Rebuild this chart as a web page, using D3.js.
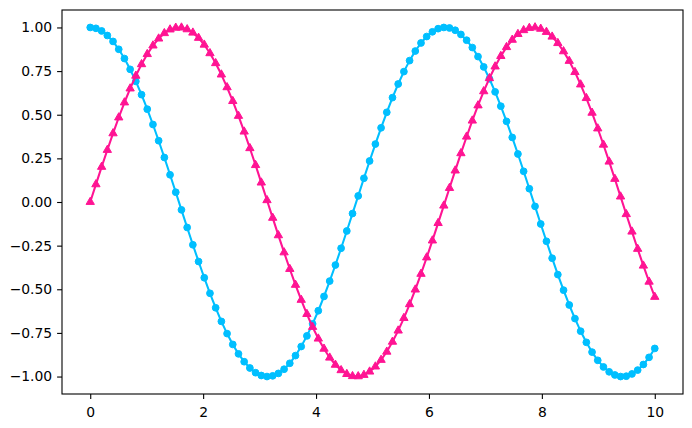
<!DOCTYPE html>
<html>
<head>
<meta charset="utf-8">
<script src="https://cdn.jsdelivr.net/npm/d3@7"></script>
<style>
  html, body { margin: 0; padding: 0; background: #fff; }
  svg { display: block; }
  .tick text { font-family: "DejaVu Sans", sans-serif; font-size: 13.9px; fill: #000; }
</style>
</head>
<body>
<svg id="chart" width="692" height="428"></svg>
<script>
// x positions of the samples
const xValues = [0, 0.101, 0.202, 0.303, 0.404, 0.505, 0.606, 0.707, 0.808, 0.909,
  1.010, 1.111, 1.212, 1.313, 1.414, 1.515, 1.616, 1.717, 1.818, 1.919,
  2.020, 2.121, 2.222, 2.323, 2.424, 2.525, 2.626, 2.727, 2.828, 2.929,
  3.030, 3.131, 3.232, 3.333, 3.434, 3.535, 3.636, 3.737, 3.838, 3.939,
  4.040, 4.141, 4.242, 4.343, 4.444, 4.545, 4.646, 4.747, 4.848, 4.949,
  5.051, 5.152, 5.253, 5.354, 5.455, 5.556, 5.657, 5.758, 5.859, 5.960,
  6.061, 6.162, 6.263, 6.364, 6.465, 6.566, 6.667, 6.768, 6.869, 6.970,
  7.071, 7.172, 7.273, 7.374, 7.475, 7.576, 7.677, 7.778, 7.879, 7.980,
  8.081, 8.182, 8.283, 8.384, 8.485, 8.586, 8.687, 8.788, 8.889, 8.990,
  9.091, 9.192, 9.293, 9.394, 9.495, 9.596, 9.697, 9.798, 9.899, 10];

// pink series (triangles)
const pinkValues = [0, 0.101, 0.201, 0.298, 0.393, 0.484, 0.570, 0.650, 0.723, 0.789,
  0.847, 0.896, 0.936, 0.967, 0.988, 0.998, 0.999, 0.989, 0.970, 0.940,
  0.901, 0.852, 0.795, 0.730, 0.657, 0.578, 0.493, 0.403, 0.308, 0.211,
  0.111, 0.010, -0.091, -0.191, -0.289, -0.384, -0.475, -0.561, -0.642, -0.716,
  -0.783, -0.841, -0.892, -0.933, -0.964, -0.986, -0.998, -0.999, -0.991, -0.972,
  -0.943, -0.905, -0.858, -0.801, -0.737, -0.665, -0.586, -0.502, -0.412, -0.318,
  -0.221, -0.121, -0.021, 0.080, 0.180, 0.279, 0.374, 0.466, 0.553, 0.634,
  0.709, 0.776, 0.836, 0.887, 0.929, 0.962, 0.984, 0.997, 1.000, 0.992,
  0.974, 0.947, 0.910, 0.863, 0.808, 0.744, 0.673, 0.595, 0.511, 0.421,
  0.328, 0.231, 0.132, 0.031, -0.070, -0.170, -0.269, -0.365, -0.457, -0.544];

// blue series (circles)
const blueValues = [1, 0.995, 0.980, 0.954, 0.920, 0.875, 0.822, 0.760, 0.691, 0.615,
  0.532, 0.444, 0.351, 0.255, 0.156, 0.056, -0.045, -0.146, -0.245, -0.341,
  -0.434, -0.523, -0.606, -0.684, -0.754, -0.816, -0.870, -0.915, -0.951, -0.978,
  -0.994, -1.000, -0.996, -0.982, -0.958, -0.924, -0.880, -0.828, -0.767, -0.698,
  -0.623, -0.541, -0.453, -0.361, -0.265, -0.166, -0.066, 0.035, 0.136, 0.235,
  0.332, 0.425, 0.514, 0.598, 0.676, 0.747, 0.810, 0.865, 0.911, 0.948,
  0.975, 0.993, 1.000, 0.997, 0.984, 0.960, 0.927, 0.885, 0.833, 0.774,
  0.706, 0.631, 0.549, 0.462, 0.370, 0.275, 0.176, 0.076, -0.025, -0.126,
  -0.225, -0.322, -0.416, -0.505, -0.590, -0.668, -0.740, -0.804, -0.860, -0.907,
  -0.945, -0.973, -0.991, -1.000, -0.998, -0.985, -0.963, -0.931, -0.890, -0.839];

const xTicks = [0, 2, 4, 6, 8, 10];
const yTicks = [-1.00, -0.75, -0.50, -0.25, 0.00, 0.25, 0.50, 0.75, 1.00];

const margin = {left: 62, right: 9, top: 10, bottom: 34};
const W = 692, H = 428;
const svg = d3.select("#chart");

const xExt = d3.extent(xValues);
const xPad = (xExt[1] - xExt[0]) * 0.05;
const allY = blueValues.concat(pinkValues);
const yExt = d3.extent(allY);
const yPad = (yExt[1] - yExt[0]) * 0.05;

const x = d3.scaleLinear().domain([xExt[0] - xPad, xExt[1] + xPad]).range([margin.left, W - margin.right]);
const y = d3.scaleLinear().domain([yExt[0] - yPad, yExt[1] + yPad]).range([H - margin.bottom, margin.top]);

const fmtY = v => d3.format(".2f")(v).replace("-", "\u2212");

const xAxis = svg.append("g")
  .attr("transform", `translate(0,${H - margin.bottom})`)
  .call(d3.axisBottom(x).tickValues(xTicks).tickFormat(d3.format("d")).tickSize(4.9).tickPadding(4.9));
const yAxis = svg.append("g")
  .attr("transform", `translate(${margin.left},0)`)
  .call(d3.axisLeft(y).tickValues(yTicks).tickFormat(fmtY).tickSize(4.9).tickPadding(4.9));
[xAxis, yAxis].forEach(a => {
  a.select(".domain").remove();
  a.selectAll(".tick line").attr("stroke", "#000").attr("stroke-width", 1.1);
});
xAxis.selectAll(".tick text").attr("dy", "0.95em");

const series = [
  {values: blueValues, color: "#00bfff", shape: d3.symbolCircle},
  {values: pinkValues, color: "#ff1493", shape: d3.symbolTriangle}
];

const plot = svg.append("g");
series.forEach(s => {
  const data = xValues.map((xv, i) => [xv, s.values[i]]);
  plot.append("path")
    .datum(data)
    .attr("fill", "none")
    .attr("stroke", s.color)
    .attr("stroke-width", 2.08)
    .attr("stroke-linejoin", "round")
    .attr("stroke-linecap", "butt")
    .attr("d", d3.line().x(d => x(d[0])).y(d => y(d[1])));
  const sym = d3.symbol().type(s.shape).size(s.shape === d3.symbolCircle ? 36 : 30);
  plot.selectAll(null)
    .data(data)
    .enter().append("path")
    .attr("transform", d => `translate(${x(d[0])},${y(d[1])})`)
    .attr("d", sym)
    .attr("fill", s.color)
    .attr("stroke", s.color)
    .attr("stroke-width", 1);
});

// axes frame
svg.append("rect")
  .attr("x", margin.left).attr("y", margin.top)
  .attr("width", W - margin.left - margin.right)
  .attr("height", H - margin.top - margin.bottom)
  .attr("fill", "none").attr("stroke", "#000").attr("stroke-width", 1.1);
</script>
</body>
</html>
